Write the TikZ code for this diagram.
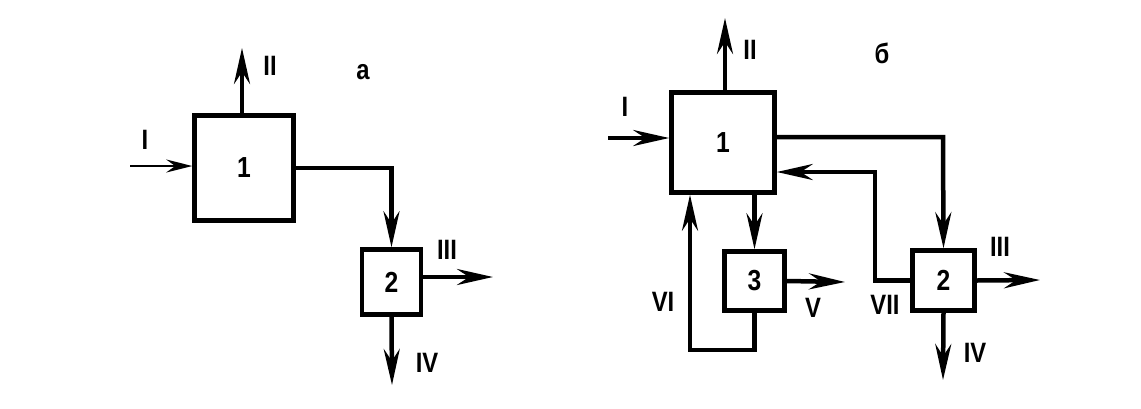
\documentclass[tikz,border=0pt]{standalone}
\usepackage{fontspec}
\setmainfont{Liberation Sans}[FakeStretch=0.85]
\usetikzlibrary{arrows.meta,calc}

\begin{document}
\begin{tikzpicture}[x=1pt,y=-1pt,
	box/.style 2 args={draw,line width=4.5pt,minimum width=#1,minimum height=#2,inner sep=0pt,font=\bfseries\fontsize{29}{29}\selectfont},
	lbl/.style={inner sep=0pt,font=\bfseries\fontsize{28}{28}\selectfont},
	flow/.style={line width=4.5pt,-{Stealth[length=36pt,width=16pt,inset=12pt]}},
	thinflow/.style={line width=2.5pt,-{Stealth[length=26pt,width=13pt,inset=9pt]}}]
			%%%%% START %%%%%
			
			\useasboundingbox (0,0) rectangle (1141,408);
			
			% a
			\node[box={99pt}{105pt}] (a1) at (244,168) {1};
			\node[box={59pt}{65pt}] (a2) at (391.5,282) {2};
			
			\coordinate (aIin) at (130,166);
			\coordinate (aIIout) at (242,48);
			\coordinate (aIIIout) at (493,277);
			\coordinate (aIVout) at (392,385);
			
			\draw[thinflow] (aIin) -- (aIin -| a1.west);
			\draw[flow] (aIIout |- a1.north) -- (aIIout);
			\draw[flow] (a1.east) -| (a2.north);
			\draw[flow] (aIIIout -| a2.east) -- (aIIIout);
			\draw[flow] (a2.south) -- (aIVout);
			
			\node[lbl] (aI) at (145,140) {I};
			\node[lbl] (aII) at (270,66) {II};
			\node[lbl] (aname) at (363,72) {a};
			\node[lbl] (aIII) at (447,250) {III};
			\node[lbl] (aIV) at (427,363) {IV};
			
			% b
			\node[box={103pt}{100pt}] (b1) at (723,142.5) {1};
			\node[box={60pt}{59pt}] (b3) at (754.5,281) {3};
			\node[box={62pt}{60pt}] (b2) at (943.5,280.5) {2};
			
			\coordinate (bIin) at (608,138);
			\coordinate (bIIout) at (725,18);
			\coordinate (bfeed) at (943,137);
			\coordinate (bVIIup) at (875,172);
			\coordinate (bVout) at (845,282);
			\coordinate (bVIbend) at (690,350);
			\coordinate (bIIIout) at (1040,280);
			\coordinate (bIVout) at (943,380);
			
			\draw[flow] (bIin) -- (bIin -| b1.west);
			\draw[flow] (bIIout |- b1.north) -- (bIIout);
			\draw[flow] (bfeed -| b1.east) -- (bfeed) -- (b2.north);
			\draw[flow] (b2.west) -| (bVIIup) -- (bVIIup -| b1.east);
			\draw[flow] (b1.south -| b3.north) -- (b3.north);
			\draw[flow] (b3.east) -- (bVout);
			\draw[flow] (b3.south) |- (bVIbend) -- (bVIbend |- b1.south);
			\draw[flow] (b2.east) -- (bIIIout);
			\draw[flow] (b2.south) -- (bIVout);
			
			\node[lbl] (bI) at (625,107) {I};
			\node[lbl] (bII) at (750,50) {II};
			\node[lbl] (bname) at (882,53) {б};
			\node[lbl] (bIII) at (1000,247) {III};
			\node[lbl] (bIV) at (975,353) {IV};
			\node[lbl] (bV) at (813,308) {V};
			\node[lbl] (bVI) at (663,302) {VI};
			\node[lbl] (bVII) at (885,305) {VII};
			
			%%%%% END %%%%%
		\end{tikzpicture}
\end{document}
